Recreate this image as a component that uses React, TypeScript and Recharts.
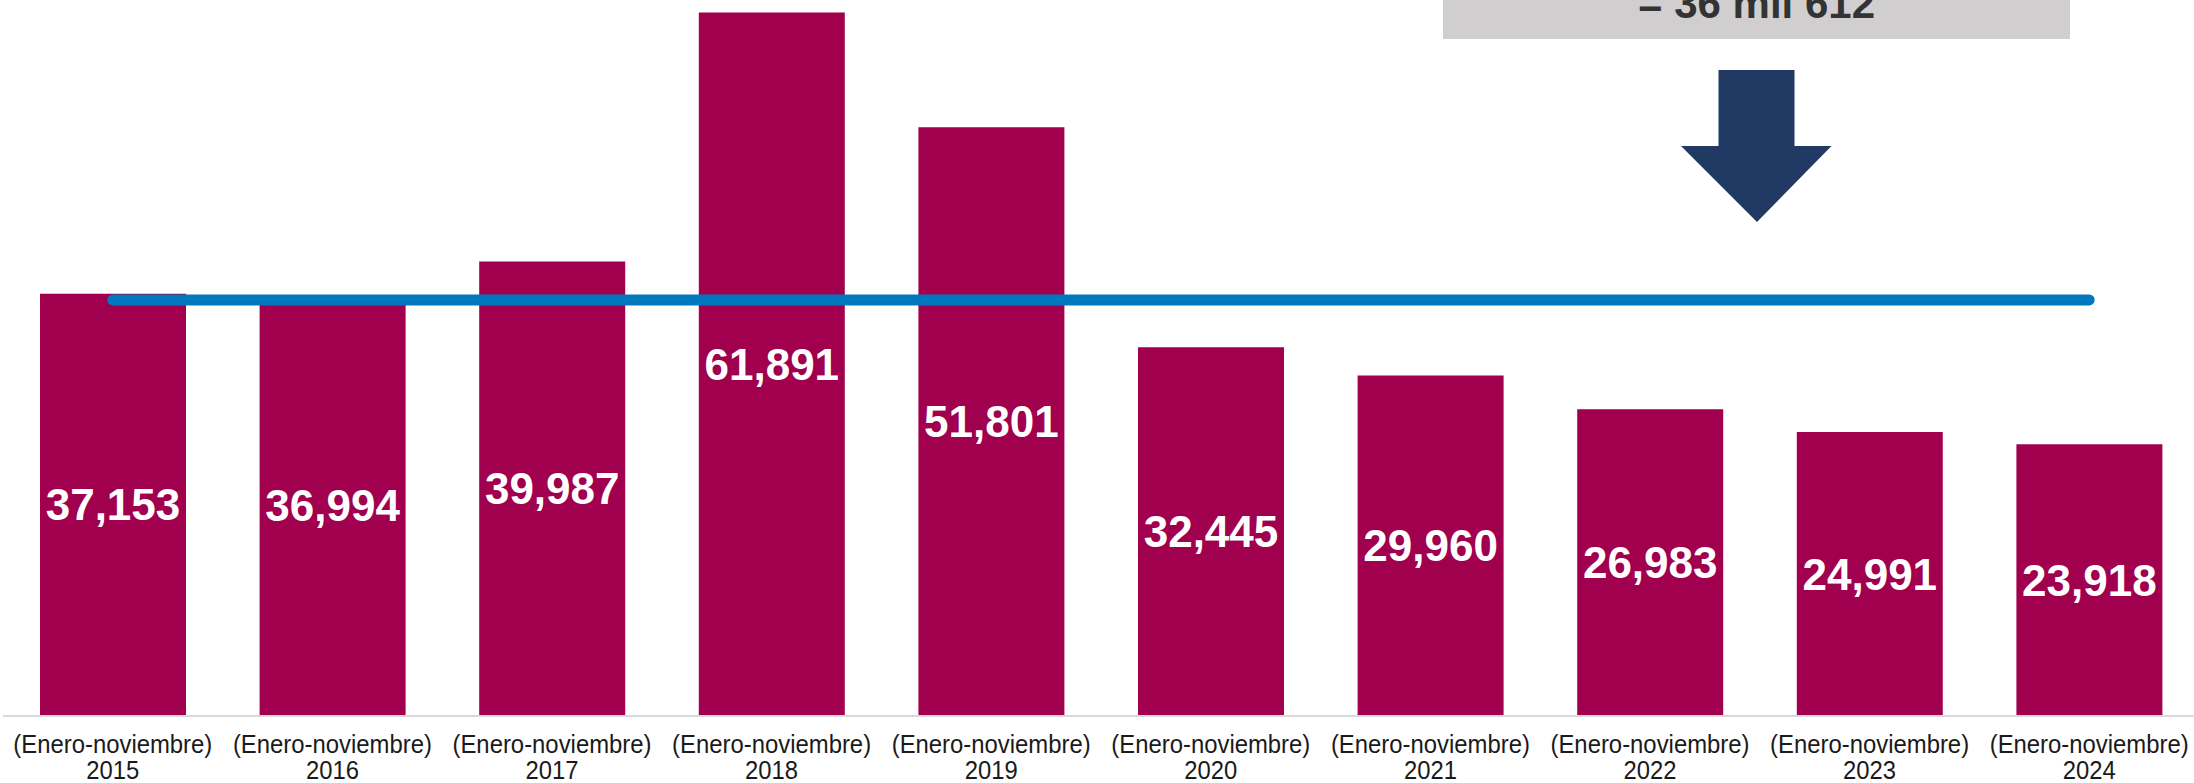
import React from "react";
import { ComposedChart, Bar, Line, XAxis, YAxis, LabelList } from "recharts";

const years = ["2015", "2016", "2017", "2018", "2019", "2020", "2021", "2022", "2023", "2024"];
const periodo = "(Enero-noviembre)";
const casos = [37153, 36994, 39987, 61891, 51801, 32445, 29960, 26983, 24991, 23918];
const promedio = [36612, 36612, 36612, 36612, 36612, 36612, 36612, 36612, 36612, 36612];
const promedioTexto = "= 36 mil 612";

const data = years.map((year, i) => ({
  year,
  casos: casos[i],
  promedio: promedio[i],
}));

const W = 2194;
const H = 783;

function YearTick(props: any) {
  const { x, y, payload } = props;
  return (
    <g>
      <text
        x={x}
        y={y + 37}
        textAnchor="middle"
        fontFamily="'Liberation Sans', Arial, sans-serif"
        fontSize={26}
        fill="#1a1a1a"
        textLength={199}
        lengthAdjust="spacingAndGlyphs"
      >
        {periodo}
      </text>
      <text
        x={x}
        y={y + 63}
        textAnchor="middle"
        fontFamily="'Liberation Sans', Arial, sans-serif"
        fontSize={26}
        fill="#1a1a1a"
        textLength={53}
        lengthAdjust="spacingAndGlyphs"
      >
        {payload.value}
      </text>
    </g>
  );
}

export default function App() {
  return (
    <div style={{ position: "absolute", left: 0, top: 0, width: W, height: H, background: "#fff" }}>
      <ComposedChart
        width={W}
        height={H}
        data={data}
        margin={{ top: 0, right: -5, left: 3, bottom: 0 }}
      >
        <XAxis
          dataKey="year"
          height={67}
          axisLine={{ stroke: "#D9D9D9", strokeWidth: 2 }}
          tickLine={false}
          tickSize={0}
          tickMargin={0}
          interval={0}
          tick={<YearTick />}
        />
        <YAxis hide domain={[0, 63000]} />
        <Bar dataKey="casos" fill="#A0004E" barSize={146} isAnimationActive={false}>
          <LabelList
            dataKey="casos"
            position="center"
            formatter={(v: any) => Number(v).toLocaleString("en-US")}
            fill="#ffffff"
            fontSize={44}
            fontWeight="bold"
            fontFamily="'Liberation Sans', Arial, sans-serif"
          />
        </Bar>
        <Line
          dataKey="promedio"
          stroke="#0078BE"
          strokeWidth={11}
          strokeLinecap="round"
          dot={false}
          activeDot={false}
          isAnimationActive={false}
        />
      </ComposedChart>
      <svg
        width={W}
        height={H}
        style={{ position: "absolute", left: 0, top: 0, pointerEvents: "none" }}
      >
        <rect x={1443} y={-2} width={627} height={41} fill="#D0CECF" />
        <text
          x={1756.5}
          y={18}
          textAnchor="middle"
          fontFamily="'Liberation Sans', Arial, sans-serif"
          fontWeight="bold"
          fontSize={42}
          fill="#333333"
        >
          {promedioTexto}
        </text>
        <polygon
          points="1718.5,70 1794.5,70 1794.5,146 1831.5,146 1757,222 1681,146 1718.5,146"
          fill="#213A64"
        />
      </svg>
    </div>
  );
}
